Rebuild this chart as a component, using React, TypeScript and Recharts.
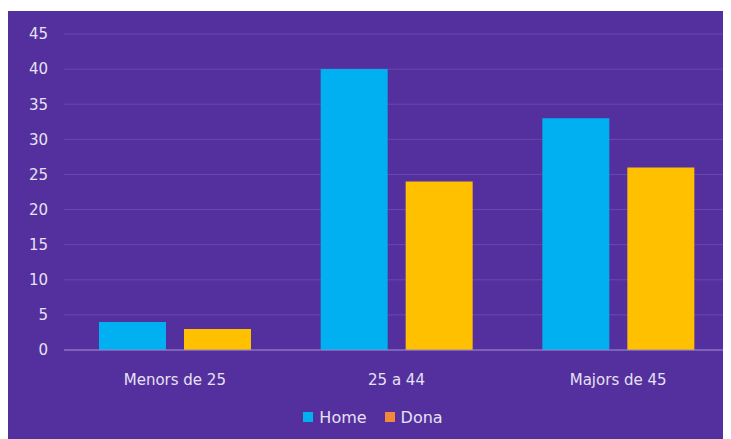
import React from 'react';
import { BarChart, Bar, XAxis, YAxis, CartesianGrid, Legend } from 'recharts';

const categories = ['Menors de 25', '25 a 44', 'Majors de 45'];
const home = [4, 40, 33];
const dona = [3, 24, 26];
const yTicks = [0, 5, 10, 15, 20, 25, 30, 35, 40, 45];

const legendItems = [
  { name: 'Home', color: '#00B0F0' },
  { name: 'Dona', color: '#F4883A' },
];

const data = categories.map((c, i) => ({ name: c, home: home[i], dona: dona[i] }));

const FONT = '"DejaVu Sans", sans-serif';
const TEXT = '#E6E1F3';

function ChartLegend() {
  return (
    <div style={{ display: 'flex', justifyContent: 'center', alignItems: 'center', gap: 18, fontFamily: FONT, fontSize: 16, color: TEXT, height: 20, paddingLeft: 10 }}>
      {legendItems.map((it) => (
        <span key={it.name} style={{ display: 'flex', alignItems: 'center' }}>
          <span style={{ width: 10, height: 10, background: it.color, marginRight: 6, display: 'inline-block' }} />
          {it.name}
        </span>
      ))}
    </div>
  );
}

export default function App() {
  return (
    <div style={{ marginLeft: -1, marginTop: 3, width: 723, height: 428, background: '#54309E' }}>
      <BarChart width={723} height={428} data={data} margin={{ top: 23, right: 1, left: 0, bottom: 29 }} barSize={67} barGap={18}>
        <CartesianGrid vertical={false} stroke="#6849AE" />
        <XAxis
          dataKey="name"
          axisLine={{ stroke: '#9C87CC' }}
          tickLine={false}
          tickSize={0}
          tickMargin={24}
          height={40}
          tick={{ fill: TEXT, fontSize: 15, fontFamily: FONT }}
        />
        <YAxis
          domain={[0, 45]}
          ticks={yTicks}
          interval={0}
          axisLine={false}
          tickLine={false}
          tickSize={0}
          tickMargin={16}
          width={57}
          tick={{ fill: TEXT, fontSize: 15, fontFamily: FONT }}
        />
        <Legend verticalAlign="bottom" wrapperStyle={{ bottom: 12 }} content={() => <ChartLegend />} />
        <Bar dataKey="home" name="Home" fill="#00B0F0" isAnimationActive={false} />
        <Bar dataKey="dona" name="Dona" fill="#FFC000" isAnimationActive={false} />
      </BarChart>
    </div>
  );
}
